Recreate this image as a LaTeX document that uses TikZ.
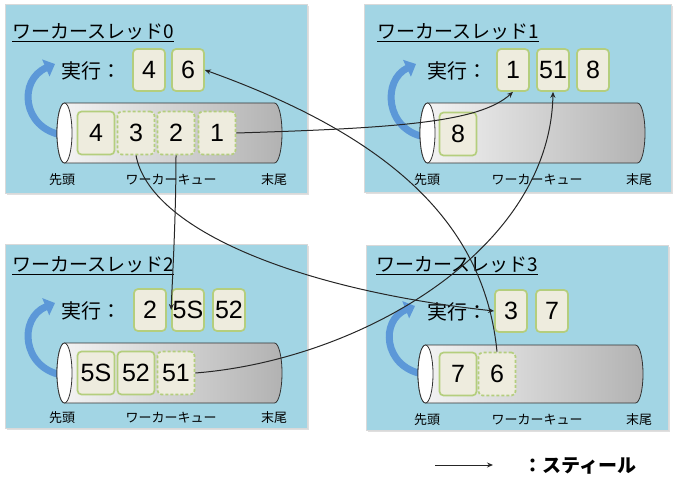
\documentclass[tikz,border=0pt]{standalone}
\usepackage{fontspec}
\setmainfont{Noto Sans CJK JP}
\newfontfamily\numfont{Liberation Sans}
\usetikzlibrary{arrows.meta,shadows}
\definecolor{panelblue}{RGB}{162,213,228}
\definecolor{boxfill}{RGB}{238,236,222}
\definecolor{boxline}{RGB}{180,206,125}
\definecolor{arrowblue}{RGB}{92,152,216}
\definecolor{cylgray}{RGB}{178,178,178}
\newcommand\quecyl[4]{%
  \path[draw=black!80, line width=0.8pt, left color=white!96!black, right color=cylgray]
    (#1,#3-#4) -- (#2,#3-#4) arc[start angle=270,end angle=450,x radius=7.5,y radius=#4]
    -- (#1,#3+#4) arc[start angle=90,end angle=270,x radius=7.5,y radius=#4] -- cycle;
  \draw[fill=white, draw=black!80, line width=0.8pt] (#1,#3) ellipse[x radius=7.5, y radius=#4];}
\tikzset{
  panel/.style={fill=panelblue, draw=white!85!black, line width=0.6pt,
    drop shadow={opacity=0.25, shadow xshift=1.5pt, shadow yshift=-1.5pt}},
  taskbox/.style={draw=boxline, fill=boxfill, line width=1.7pt, rounded corners=4pt,
    minimum width=32pt, minimum height=42pt, inner sep=0pt,
    font=\numfont\fontsize{25}{25}\selectfont},
  qbox/.style={taskbox, minimum width=37pt, minimum height=43pt},
  stolen/.style={dashed, dash pattern=on 3pt off 2pt},
  title/.style={anchor=base west, inner sep=0pt, font=\fontsize{19}{19}\selectfont},
  exlabel/.style={inner sep=0pt, font=\fontsize{20}{20}\selectfont},
  small/.style={inner sep=0pt, text=black, font=\fontsize{13}{13}\selectfont},
  steal/.style={draw=black!85, line width=1pt, -{Stealth[length=6pt,width=5pt]}},
  turn/.style={draw=arrowblue, line width=7pt, -{Triangle[length=10pt,width=18pt]}}
}
\begin{document}
\begin{tikzpicture}[x=1pt,y=-1pt]
\useasboundingbox (0,0) rectangle (683,490);
% panels
\path[panel] (5,4) rectangle (307,193);
\path[panel] (364,4) rectangle (671,192);
\path[panel] (5,244) rectangle (307,428);
\path[panel] (366,245) rectangle (668,430);
% blue turn arrows
\draw[turn] (62,135) .. controls (22,128) and (18,80) .. (55,64);
\draw[turn] (425,137) .. controls (385,130) and (382,80) .. (416,64);
\draw[turn] (62,375) .. controls (22,368) and (18,318) .. (55,303);
\draw[turn] (423,374) .. controls (383,367) and (380,320) .. (415,306);
% cylinders
\quecyl{64.5}{274.5}{133}{30}
\quecyl{427.5}{637.5}{133}{30}
\quecyl{64.5}{274.5}{373}{30}
\quecyl{425.5}{635.5}{374}{29}
% panel 0
\node[title] (t0) at (12,38) {\underline{ワーカースレッド0}};
\node[exlabel] (x0) at (91,71) {実行：};
\node[taskbox] (e04) at (149,70) {4};
\node[taskbox] (e06) at (188,70) {6};
\node[qbox] (q04) at (96,133) {4};
\node[qbox,stolen] (q03) at (136,133) {3};
\node[qbox,stolen] (q02) at (176,133) {2};
\node[qbox,stolen] (q01) at (217,133) {1};
\node[small] (h0) at (62,180) {先頭};
\node[small] (w0) at (171,180) {ワーカーキュー};
\node[small] (m0) at (274,180) {末尾};
% panel 1
\node[title] (t1) at (377,38) {\underline{ワーカースレッド1}};
\node[exlabel] (x1) at (457,71) {実行：};
\node[taskbox] (e11) at (513,70) {1};
\node[taskbox] (e151) at (553,70) {51};
\node[taskbox] (e18) at (593,70) {8};
\node[qbox] (q18) at (458,134) {8};
\node[small] (h1) at (427,180) {先頭};
\node[small] (w1) at (537,180) {ワーカーキュー};
\node[small] (m1) at (639,180) {末尾};
% panel 2
\node[title] (t2) at (12,271) {\underline{ワーカースレッド2}};
\node[exlabel] (x2) at (91,311) {実行：};
\node[taskbox] (e22) at (150,310) {2};
\node[taskbox] (e25S) at (188,310) {5S};
\node[taskbox] (e252) at (229,310) {52};
\node[qbox] (q25S) at (96,373) {5S};
\node[qbox] (q252) at (136,373) {52};
\node[qbox,stolen] (q251) at (176,373) {51};
\node[small] (h2) at (62,418) {先頭};
\node[small] (w2) at (171,418) {ワーカーキュー};
\node[small] (m2) at (274,418) {末尾};
% panel 3
\node[title] (t3) at (376,271) {\underline{ワーカースレッド3}};
\node[exlabel] (x3) at (457,312) {実行：};
\node[taskbox] (e33) at (511,311) {3};
\node[taskbox] (e37) at (552,311) {7};
\node[qbox] (q37) at (458,374) {7};
\node[qbox,stolen] (q36) at (497,374) {6};
\node[small] (h3) at (427,420) {先頭};
\node[small] (w3) at (537,420) {ワーカーキュー};
\node[small] (m3) at (639,420) {末尾};
% steal arrows
\draw[steal] (q01.east) .. controls (400,128) and (480,122) .. (e11.south);
\draw[steal] (q03.south) .. controls (150,230) and (300,290) .. (e33.west);
\draw[steal] (q02.south) .. controls (176,220) and (172,285) .. (e25S.west);
\draw[steal] (q36.north) .. controls (485,230) and (400,140) .. (e06.east);
\draw[steal] (q251.east) .. controls (360,360) and (550,250) .. (e151.south);
% legend
\coordinate (la) at (435,465);
\coordinate (lb) at (493,465);
\draw[steal] (la) -- (lb);
\node[inner sep=0pt, font=\fontsize{19}{19}\selectfont\bfseries] (lt) at (580,466) {：スティール};
\end{tikzpicture}
\end{document}
